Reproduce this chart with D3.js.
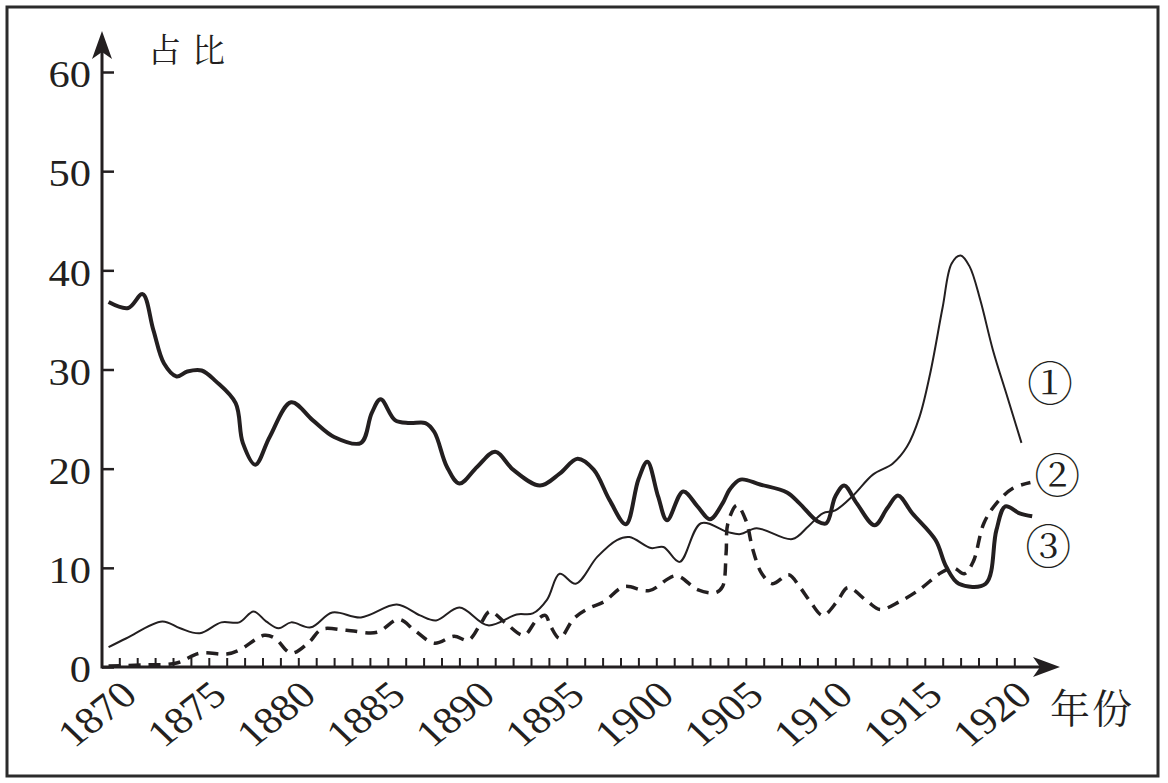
<!DOCTYPE html>
<html>
<head>
<meta charset="utf-8">
<script src="https://cdn.jsdelivr.net/npm/d3@7"></script>
<style>
    body { margin: 0; background: #fff; }
    svg { display: block; }
</style>
</head>
<body>
<svg id="chart" width="1168" height="783"></svg>
<script>
    // tick values
    var yearTicks = d3.range(1870, 1921, 1);
    var yearLabels = [1870, 1875, 1880, 1885, 1890, 1895, 1900, 1905, 1910, 1915, 1920];
    var valueTicks = [0, 10, 20, 30, 40, 50, 60];

    // series: [year, share]
    var line1 = [ // thin solid, label ①
        [1869.4, 2.0], [1870.4, 2.9], [1872.4, 4.6], [1873.4, 3.9], [1874.5, 3.4],
        [1875.7, 4.5], [1876.7, 4.5], [1877.5, 5.6], [1878.2, 4.6], [1878.9, 3.9],
        [1879.6, 4.5], [1880.7, 4.0], [1881.9, 5.5], [1883.5, 5.0], [1885.5, 6.3],
        [1886.8, 5.2], [1887.7, 4.7], [1889.0, 6.0], [1890.6, 4.2], [1892.2, 5.3],
        [1893.1, 5.4], [1893.9, 6.8], [1894.6, 9.4], [1895.5, 8.4], [1896.7, 11.1],
        [1897.8, 12.8], [1898.5, 13.1], [1899.7, 12.0], [1900.4, 12.1], [1901.3, 10.6],
        [1902.5, 14.5], [1904.0, 13.6], [1904.7, 13.4], [1905.6, 14.0], [1907.6, 12.9],
        [1908.5, 14.2], [1909.3, 15.5], [1910.0, 15.8], [1911.0, 17.3], [1912.1, 19.4],
        [1913.2, 20.5], [1914.0, 22.2], [1914.7, 25.2], [1915.3, 29.6], [1916.0, 36.3],
        [1916.5, 40.7], [1917.0, 41.5], [1917.5, 40.4], [1918.1, 37.0], [1918.8, 32.0],
        [1919.6, 27.3], [1920.4, 22.6]
    ];

    var line2 = [ // dashed, label ②
        [1869.4, 0.1], [1871.3, 0.2], [1873.2, 0.4], [1874.5, 1.4], [1876.0, 1.3],
        [1876.7, 1.7], [1878.1, 3.2], [1878.7, 2.9], [1879.6, 1.4], [1880.6, 2.5],
        [1881.3, 3.8], [1882.7, 3.7], [1884.4, 3.5], [1885.6, 4.8], [1886.5, 3.7],
        [1887.6, 2.4], [1888.7, 3.1], [1889.5, 2.7], [1890.2, 4.4], [1890.7, 5.6],
        [1891.6, 4.4], [1892.6, 3.2], [1893.3, 4.7], [1893.8, 5.2], [1894.1, 4.1],
        [1894.6, 2.9], [1895.4, 4.9], [1896.2, 5.9], [1897.1, 6.6], [1898.2, 8.1],
        [1899.6, 7.7], [1901.1, 9.2], [1902.3, 7.8], [1903.3, 7.5], [1903.7, 8.1],
        [1903.9, 11.5], [1904.0, 14.5], [1904.5, 16.3], [1905.0, 14.8], [1905.4, 11.8],
        [1905.9, 9.4], [1906.5, 8.4], [1907.4, 9.3], [1908.0, 8.1], [1908.6, 6.6],
        [1909.3, 5.2], [1910.1, 6.6], [1910.7, 8.0], [1911.8, 6.6], [1912.5, 5.8],
        [1913.6, 6.6], [1914.7, 7.8], [1915.9, 9.5], [1916.6, 10.0], [1917.2, 9.4],
        [1917.7, 10.6], [1918.3, 14.5], [1919.0, 16.5], [1919.9, 18.0], [1920.9, 18.6]
    ];

    var line3 = [ // thick solid, label ③
        [1869.4, 36.8], [1870.5, 36.2], [1871.3, 37.6], [1871.9, 34.0], [1872.5, 30.6],
        [1873.2, 29.3], [1873.8, 29.8], [1874.6, 29.9], [1875.4, 28.8], [1876.5, 26.6],
        [1876.9, 22.6], [1877.6, 20.4], [1878.4, 23.2], [1879.6, 26.7], [1880.8, 24.9],
        [1882.0, 23.2], [1883.5, 22.6], [1884.1, 25.6], [1884.6, 27.0], [1885.4, 24.9],
        [1886.2, 24.6], [1887.1, 24.6], [1887.6, 23.7], [1888.3, 20.2], [1889.0, 18.5],
        [1890.0, 20.2], [1891.0, 21.7], [1892.0, 19.9], [1893.5, 18.3], [1894.6, 19.5],
        [1895.6, 21.0], [1896.5, 19.9], [1897.4, 16.8], [1898.3, 14.4], [1899.0, 18.9],
        [1899.5, 20.7], [1900.1, 17.2], [1900.6, 14.8], [1901.5, 17.7], [1902.3, 16.2],
        [1903.0, 14.9], [1903.7, 16.5], [1904.1, 17.9], [1904.7, 18.9], [1905.8, 18.4],
        [1907.3, 17.6], [1908.0, 16.5], [1909.0, 14.7], [1909.5, 14.5], [1910.0, 17.2],
        [1910.5, 18.3], [1911.2, 16.5], [1912.2, 14.3], [1912.9, 16.0], [1913.5, 17.3],
        [1914.3, 15.5], [1915.6, 12.8], [1916.2, 10.1], [1916.9, 8.4], [1918.4, 8.4],
        [1919.0, 13.8], [1919.5, 16.2], [1920.3, 15.5], [1921.0, 15.2]
    ];

    // circled labels placed next to line ends: [text, year, share]
    var seriesLabels = [["①", 1922.0, 28.6], ["②", 1922.4, 19.3], ["③", 1921.9, 12.2]];

    var ink = "#231f20";
    var serif = "'Liberation Serif'";
    var cjkSerif = "'Noto Serif CJK SC'";
    var originX = 102, originY = 667;
    var stretch = 1.15; // the print's numerals are a little wider than Liberation Serif

    var svg = d3.select("#chart");

    var x = d3.scaleLinear().domain([1870, 1920]).range([119.3, 1014.3]);
    var y = d3.scaleLinear().domain([0, 60]).range([originY, 72]);

    // frame
    svg.append("rect")
        .attr("x", 7).attr("y", 7)
        .attr("width", 1151).attr("height", 769)
        .attr("fill", "none")
        .attr("stroke", "#2b2b2b")
        .attr("stroke-width", 3);

    // x axis ticks (pointing up)
    var xAxis = d3.axisBottom(x)
        .tickValues(yearTicks)
        .tickSizeInner(-9)
        .tickSizeOuter(0)
        .tickFormat("");

    var gx = svg.append("g")
        .attr("transform", "translate(0," + originY + ")")
        .call(xAxis);
    gx.select(".domain").remove();
    gx.selectAll(".tick line").attr("stroke", ink).attr("stroke-width", 2);

    // y axis ticks (pointing right) with labels on the left
    var yAxis = d3.axisLeft(y)
        .tickValues(valueTicks)
        .tickSizeInner(-12)
        .tickSizeOuter(0)
        .tickPadding(11);

    var gy = svg.append("g")
        .attr("transform", "translate(" + originX + ",0)")
        .call(yAxis);
    gy.select(".domain").remove();
    gy.selectAll(".tick line").attr("stroke", ink).attr("stroke-width", 2.5);
    gy.selectAll(".tick text")
        .attr("x", 0)
        .attr("transform", "translate(-11,0) scale(" + stretch + ",1)")
        .style("font-family", serif)
        .style("font-size", "37px")
        .attr("fill", ink)
        .attr("dy", "0.4em");

    // axis lines with arrow heads
    svg.append("line")
        .attr("x1", originX).attr("y1", originY)
        .attr("x2", 1045).attr("y2", originY)
        .attr("stroke", ink).attr("stroke-width", 3);
    svg.append("path")
        .attr("d", "M1060," + originY + " L1033," + (originY - 10) + " L1040," + originY + " L1033," + (originY + 10) + "Z")
        .attr("fill", ink);

    svg.append("line")
        .attr("x1", originX).attr("y1", originY + 1.5)
        .attr("x2", originX).attr("y2", 45)
        .attr("stroke", ink).attr("stroke-width", 3);
    svg.append("path")
        .attr("d", "M" + originX + ",31 L" + (originX - 10) + ",59 L" + originX + ",52 L" + (originX + 10) + ",59Z")
        .attr("fill", ink);

    // rotated year labels
    svg.selectAll(".year-label")
        .data(yearLabels)
        .enter().append("text")
        .attr("class", "year-label")
        .attr("text-anchor", "end")
        .attr("fill", ink)
        .style("font-family", serif)
        .style("font-size", "38px")
        .attr("transform", function (d) {
            return "translate(" + (x(d) + 20) + "," + (originY + 31) + ") scale(" + stretch + ",1) rotate(-42)";
        })
        .text(function (d) { return d; });

    // axis titles
    svg.append("text")
        .attr("x", 148).attr("y", 62)
        .attr("fill", ink)
        .style("font-family", cjkSerif)
        .style("font-size", "33px")
        .style("letter-spacing", "11px")
        .text("占比");

    svg.append("text")
        .attr("x", 1050).attr("y", 723)
        .attr("fill", ink)
        .style("font-family", cjkSerif)
        .style("font-size", "40px")
        .style("letter-spacing", "2px")
        .text("年份");

    // lines
    var line = d3.line()
        .x(function (d) { return x(d[0]); })
        .y(function (d) { return y(d[1]); })
        .curve(d3.curveCatmullRom.alpha(0.5));

    svg.append("path")
        .datum(line1)
        .attr("d", line)
        .attr("fill", "none")
        .attr("stroke", ink)
        .attr("stroke-width", 2);

    svg.append("path")
        .datum(line2)
        .attr("d", line)
        .attr("fill", "none")
        .attr("stroke", ink)
        .attr("stroke-width", 3.5)
        .attr("stroke-dasharray", "12,8");

    svg.append("path")
        .datum(line3)
        .attr("d", line)
        .attr("fill", "none")
        .attr("stroke", ink)
        .attr("stroke-width", 4);

    // circled series labels
    svg.selectAll(".series-label")
        .data(seriesLabels)
        .enter().append("text")
        .attr("class", "series-label")
        .attr("x", function (d) { return x(d[1]); })
        .attr("y", function (d) { return y(d[2]); })
        .attr("text-anchor", "middle")
        .attr("dy", "0.36em")
        .attr("fill", ink)
        .style("font-family", cjkSerif)
        .style("font-size", "46px")
        .text(function (d) { return d[0]; });
</script>
</body>
</html>
